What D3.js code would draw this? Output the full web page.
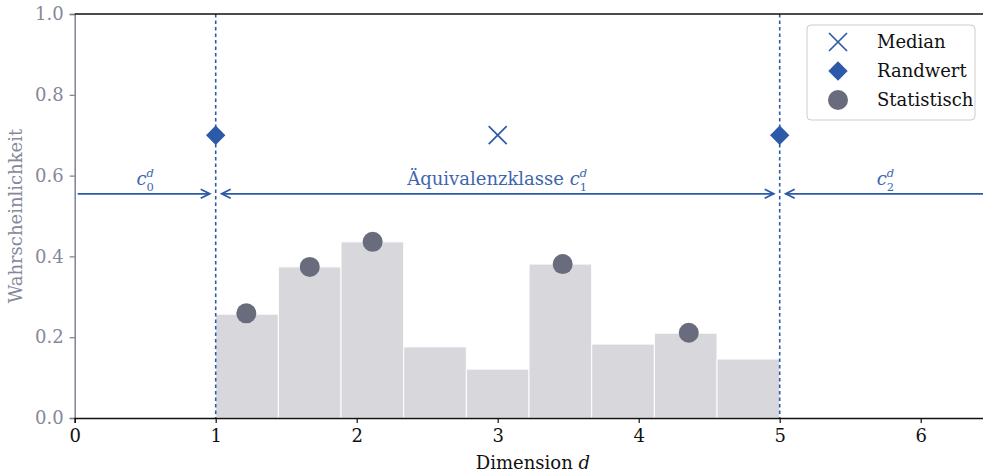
<!DOCTYPE html>
<html>
<head>
<meta charset="utf-8">
<script src="https://cdn.jsdelivr.net/npm/d3@7"></script>
<style>
  body { margin: 0; background: #fff; }
  svg { display: block; }
  svg text { font-family: "DejaVu Serif", "Liberation Serif", serif; }
</style>
</head>
<body>
<svg></svg>
<script>
// data
const binStart = 1, binWidth = 4 / 9;
const barHeights = [0.257, 0.374, 0.436, 0.176, 0.121, 0.381, 0.183, 0.210, 0.146];
const statX = [1.217, 1.667, 2.113, 3.461, 4.355];
const statY = [0.259, 0.374, 0.436, 0.381, 0.211];
const randX = [1, 5], randY = [0.7, 0.7];
const medianX = [3], medianY = [0.7];
const borders = [1, 5];
const arrowY = 0.555;
const classLabels = [
  { x: 0.5, pre: "", sub: "0" },
  { x: 3, pre: "Äquivalenzklasse ", sub: "1" },
  { x: 5.75, pre: "", sub: "2" }
];
const xTicks = [0, 1, 2, 3, 4, 5, 6];
const yTicks = [0, 0.2, 0.4, 0.6, 0.8, 1.0];
const legendItems = ["Median", "Randwert", "Statistisch"];

function drawChart() {
  const svgWidth = 983, svgHeight = 475;
  const blue = "#2c5aa8", textBlue = "#3d66b0", gray = "#696c7c", axisGray = "#777a8c";
  const fs = 18;

  const svg = d3.select("svg").attr("width", svgWidth).attr("height", svgHeight);

  const x = d3.scaleLinear().domain([0, 6.5]).range([74.7, 991.2]);
  const y = d3.scaleLinear().domain([0, 1]).range([418, 14]);

  // bars
  svg.append("g").selectAll("rect")
    .data(barHeights)
    .join("rect")
    .attr("x", (d, i) => x(binStart + i * binWidth))
    .attr("width", x(binWidth) - x(0))
    .attr("y", d => y(d))
    .attr("height", d => y(0) - y(d))
    .attr("fill", "#d8d7dc")
    .attr("stroke", "#fff")
    .attr("stroke-width", 1);

  // vertical boundaries
  svg.append("g").selectAll("line")
    .data(borders)
    .join("line")
    .attr("x1", d => x(d)).attr("x2", d => x(d))
    .attr("y1", y(1)).attr("y2", y(0))
    .attr("stroke", blue)
    .attr("stroke-width", 1.6)
    .attr("stroke-dasharray", "3.5,3");

  // arrows
  const ay = y(arrowY);
  const segs = [
    { a: x(0) + 3, b: x(1) - 6, left: false, right: true },
    { a: x(1) + 6, b: x(5) - 6, left: true, right: true },
    { a: x(5) + 6, b: 1000, left: true, right: false }
  ];
  const ag = svg.append("g").attr("stroke", blue).attr("stroke-width", 1.8).attr("fill", "none");
  segs.forEach(s => {
    ag.append("line").attr("x1", s.a).attr("x2", s.b).attr("y1", ay).attr("y2", ay);
    if (s.right) ag.append("path").attr("d", `M${s.b - 9},${ay - 4.5}L${s.b},${ay}L${s.b - 9},${ay + 4.5}`);
    if (s.left) ag.append("path").attr("d", `M${s.a + 9},${ay - 4.5}L${s.a},${ay}L${s.a + 9},${ay + 4.5}`);
  });

  // class labels  c_i^d  (one text element, sup and sub stacked)
  classLabels.forEach(l => {
    const t = svg.append("text").attr("y", ay - 9).attr("font-size", fs).attr("fill", textBlue);
    if (l.pre) t.append("tspan").text(l.pre);
    t.append("tspan").attr("font-style", "italic").text("c");
    const sup = t.append("tspan").attr("font-size", 11.5).attr("font-style", "italic").attr("dy", -8).text("d");
    const supW = sup.node().getComputedTextLength();
    t.append("tspan").attr("font-size", 11.5).attr("dx", -supW).attr("dy", 14).text(l.sub);
    const w = t.node().getBBox().width;
    t.attr("x", x(l.x) - w / 2);
  });

  // markers
  const diamond = d3.symbol().type(d3.symbolDiamond2).size(240);
  svg.append("g").selectAll("path")
    .data(randX.map((d, i) => [d, randY[i]]))
    .join("path")
    .attr("transform", d => `translate(${x(d[0])},${y(d[1])})`)
    .attr("d", diamond)
    .attr("fill", blue);

  svg.append("g").selectAll("path")
    .data(medianX.map((d, i) => [d, medianY[i]]))
    .join("path")
    .attr("transform", d => `translate(${x(d[0])},${y(d[1])})`)
    .attr("d", "M-9,-9L9,9M-9,9L9,-9")
    .attr("stroke", blue).attr("stroke-width", 1.7).attr("fill", "none");

  svg.append("g").selectAll("circle")
    .data(statX.map((d, i) => [d, statY[i]]))
    .join("circle")
    .attr("cx", d => x(d[0])).attr("cy", d => y(d[1]))
    .attr("r", 10)
    .attr("fill", gray);

  // axes
  const yAxis = svg.append("g")
    .attr("transform", `translate(${x(0)},0)`)
    .call(d3.axisLeft(y).tickValues(yTicks).tickFormat(d3.format(".1f")).tickSize(5).tickPadding(6));
  yAxis.attr("font-family", null);
  yAxis.select(".domain").attr("stroke", axisGray).attr("stroke-width", 1.4);
  yAxis.selectAll(".tick line").attr("stroke", axisGray).attr("stroke-width", 1.2);
  yAxis.selectAll(".tick text").attr("fill", "#85889b").attr("font-size", fs);

  const xAxis = svg.append("g")
    .attr("transform", `translate(0,${y(0)})`)
    .call(d3.axisBottom(x).tickValues(xTicks).tickFormat(d3.format("d")).tickSize(5).tickPadding(6));
  xAxis.attr("font-family", null);
  xAxis.select(".domain").attr("stroke", "#111").attr("stroke-width", 1.4);
  xAxis.selectAll(".tick line").attr("stroke", "#111").attr("stroke-width", 1.2);
  xAxis.selectAll(".tick text").attr("fill", "#111").attr("font-size", fs);

  // top spine
  svg.append("line")
    .attr("x1", x(0)).attr("x2", x(6.5)).attr("y1", y(1)).attr("y2", y(1))
    .attr("stroke", "#111").attr("stroke-width", 1.4);

  // axis labels
  const xl = svg.append("text")
    .attr("x", x(3.25)).attr("y", 469)
    .attr("text-anchor", "middle").attr("font-size", fs).attr("fill", "#111");
  xl.append("tspan").text("Dimension ");
  xl.append("tspan").attr("font-style", "italic").text("d");

  svg.append("text")
    .attr("transform", `translate(22,${y(0.5)}) rotate(-90)`)
    .attr("text-anchor", "middle").attr("font-size", fs).attr("fill", "#85889b")
    .text("Wahrscheinlichkeit");

  // legend
  const lg = svg.append("g").attr("transform", "translate(807,25)");
  lg.append("rect")
    .attr("width", 168).attr("height", 95).attr("rx", 4)
    .attr("fill", "#fff").attr("fill-opacity", 0.85)
    .attr("stroke", "#ccc").attr("stroke-width", 1);
  legendItems.forEach((name, i) => {
    const cy = 17 + i * 29;
    const mg = lg.append("g").attr("transform", `translate(31,${cy})`);
    if (i === 0) mg.append("path").attr("d", "M-9,-9L9,9M-9,9L9,-9").attr("stroke", blue).attr("stroke-width", 1.7);
    if (i === 1) mg.append("path").attr("d", diamond).attr("fill", blue);
    if (i === 2) mg.append("circle").attr("r", 10).attr("fill", gray);
    lg.append("text").attr("x", 70).attr("y", cy + 6).attr("font-size", fs).attr("fill", "#111").text(name);
  });
}

drawChart();
</script>
</body>
</html>
